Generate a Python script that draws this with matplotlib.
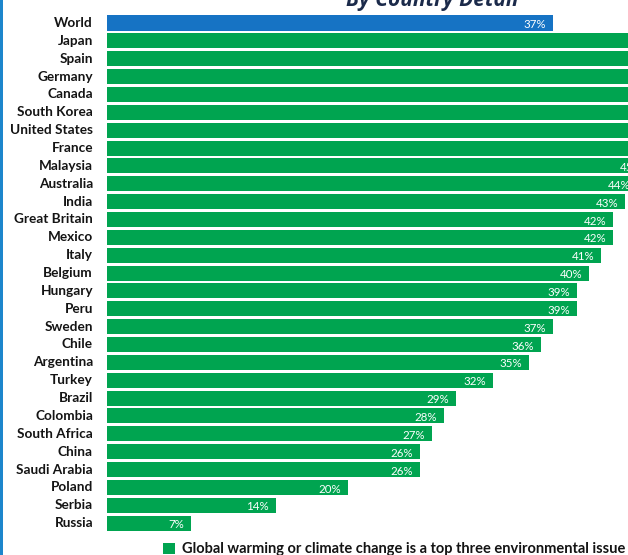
import matplotlib
matplotlib.use("Agg")
import matplotlib.pyplot as plt
from matplotlib.patches import Rectangle

countries = ["World", "Japan", "Spain", "Germany", "Canada", "South Korea",
             "United States", "France", "Malaysia", "Australia", "India",
             "Great Britain", "Mexico", "Italy", "Belgium", "Hungary", "Peru",
             "Sweden", "Chile", "Argentina", "Turkey", "Brazil", "Colombia",
             "South Africa", "China", "Saudi Arabia", "Poland", "Serbia", "Russia"]
values = [37, 63, 56, 54, 52, 50, 48, 47, 45, 44, 43, 42, 42, 41, 40, 39, 39,
          37, 36, 35, 32, 29, 28, 27, 26, 26, 20, 14, 7]
legend_label = "Global warming or climate change is a top three environmental issue"
title = "By Country Detail"

GREEN = "#00a450"
BLUE = "#1673c4"
W, H = 628, 555

fig = plt.figure(figsize=(W / 100, H / 100), dpi=100)
fig.patch.set_facecolor("white")

# plot area: bars start at x=107 px and run off the right edge
left_px = 107
px_per_pct = 12.05
ax = fig.add_axes([left_px / W, 0, (W - left_px) / W, 1])
xmax = (W - left_px) / px_per_pct
ax.set_xlim(0, xmax)
row_px, first_px = 17.86, 23.0
ax.set_ylim((H - first_px) / row_px, -first_px / row_px)
ax.axis("off")

colors = [BLUE] + [GREEN] * (len(values) - 1)
ax.barh(range(len(values)), values, height=0.84, color=colors, edgecolor="none")

label_inset = 7 / px_per_pct
label_width = 26 / px_per_pct
for i, (name, v) in enumerate(zip(countries, values)):
    fig.text(93 / W, 1 - (first_px + i * row_px) / H, name, ha="right", va="center",
             fontsize=9.8, fontweight="bold", family="Lato", color="#141414")
    # value labels only where the bar end is within reach of the plot area
    if v - label_inset - label_width < xmax:
        ax.text(v - label_inset, i + 0.40, f"{v}%", ha="right", va="bottom",
                fontsize=8.3, family="Lato", color="white", clip_on=True)

# title, partly above the top edge
fig.text(432 / W, 1 - 6 / H, title, ha="center", va="baseline", fontsize=15,
         fontweight="bold", fontstyle="italic", family="Open Sans", color="#1b2a4a")

# legend
fig.patches.append(Rectangle((163 / W, 1 - 554 / H), 12 / W, 11 / H,
                             transform=fig.transFigure, facecolor=GREEN,
                             edgecolor="none"))
fig.text(182 / W, 1 - 548.5 / H, legend_label, ha="left", va="center", fontsize=10.5,
         fontweight="bold", family="Lato", color="#141414")

# left border stripe
fig.patches.append(Rectangle((0, 0), 2.5 / W, 1, transform=fig.transFigure,
                             facecolor="#1d86cc", edgecolor="none"))

fig.savefig("out.png", dpi=100)
